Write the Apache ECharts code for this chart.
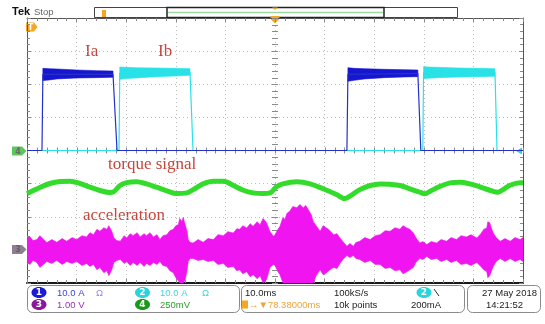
<!DOCTYPE html>
<html><head><meta charset="utf-8">
<script src="https://cdn.jsdelivr.net/npm/echarts@6/dist/echarts.min.js"></script>
<style>html,body{margin:0;padding:0;background:#fff}#c{width:545px;height:324px}</style>
</head><body><div id="c"></div>
<script>
// Horizontal: 10.0 ms/div, 10 divisions on screen
const timeRange = [0, 100];
const timePerDiv = 10;

// Channel settings: units per division and ground position (divisions from centre)
const ch1 = { perDiv: 10.0, groundDiv: 0 };   // Ia, 10.0 A/div
const ch2 = { perDiv: 10.0, groundDiv: 0 };   // Ib, 10.0 A/div
const ch3 = { perDiv: 1.00, groundDiv: -3 };  // acceleration, 1.00 V/div
const ch4 = { perDiv: 0.25, groundDiv: 0 };   // torque signal, 250 mV/div

// Ch1 phase current Ia [ms, A]
const ch1Trace = [[0,0],[3.02,0],[3.2,23.0],[17.34,23.0],[18.15,0],[64.5,0],[64.7,23.0],[78.8,23.3],[79.4,0],[100,0]];
// Ch1 flat-top noise band [ms, low A, high A]
const ch1Tops = [
  [[3.2,21.1,24.8],[4.5,21.3,24.7],[6.0,21.6,24.6],[10.0,21.9,24.3],[14.0,22.0,24.1],[17.34,22.1,24.0]],
  [[64.7,20.9,25.0],[66.0,21.2,24.8],[68.0,21.6,24.7],[72.0,22.0,24.5],[76.0,22.2,24.4],[78.8,22.3,24.3]]
];
// Ch2 phase current Ib [ms, A]
const ch2Trace = [[0,0],[18.55,0],[18.7,23.4],[32.86,23.7],[33.47,0],[79.8,0],[79.95,23.5],[94.35,23.6],[94.76,0],[100,0]];
const ch2Tops = [
  [[18.7,21.5,25.2],[20.0,21.7,25.1],[22.0,21.9,25.0],[26.0,22.3,24.9],[30.0,22.5,24.8],[32.86,22.7,24.7]],
  [[79.95,21.7,25.3],[81.0,21.8,25.2],[83.0,22.0,25.1],[87.0,22.2,24.9],[91.0,22.3,24.8],[94.35,22.4,24.7]]
];

// Ch4 torque signal [ms, V]
const ch4Torque = [
  [0,-0.325],[0.6,-0.315],[2.6,-0.279],[4.6,-0.249],[6.65,-0.234],[8.67,-0.232],[10.7,-0.249],[12.7,-0.277],
  [14.7,-0.302],[16.7,-0.317],[17.3,-0.315],[18.75,-0.264],[20.1,-0.242],[22.1,-0.236],[24.1,-0.252],[26.1,-0.277],
  [28.2,-0.304],[30.2,-0.325],[32.2,-0.320],[33.5,-0.295],[35.5,-0.252],[37.6,-0.232],[39.6,-0.232],[41.6,-0.264],
  [43.6,-0.300],[45.6,-0.320],[47.6,-0.325],[49.0,-0.320],[50.3,-0.274],[51.6,-0.252],[54.4,-0.236],[57.1,-0.252],
  [59.7,-0.289],[62.4,-0.332],[64.1,-0.363],[65.1,-0.345],[67.1,-0.295],[69.2,-0.264],[71.2,-0.252],[73.2,-0.255],
  [75.2,-0.264],[77.2,-0.289],[79.2,-0.315],[80.2,-0.327],[81.3,-0.307],[83.3,-0.270],[85.3,-0.244],[87.3,-0.239],
  [89.3,-0.252],[91.3,-0.274],[93.3,-0.300],[95.0,-0.315],[96.0,-0.295],[97.4,-0.262],[99.4,-0.244],[100,-0.244]
];

// Ch3 acceleration envelope [ms, low V, high V]
const ch3Envelope = [
  [0.0,-0.35,0.37],[0.6,-0.44,0.40],[1.2,-0.32,0.28],[2.0,-0.38,0.31],[2.6,-0.53,0.43],[4.0,-0.35,0.22],
  [5.0,-0.41,0.31],[6.0,-0.32,0.23],[7.1,-0.44,0.34],[8.0,-0.35,0.26],[9.1,-0.41,0.37],[10.0,-0.35,0.31],
  [11.1,-0.47,0.43],[12.0,-0.41,0.39],[12.7,-0.50,0.52],[13.4,-0.44,0.46],[14.1,-0.60,0.62],[14.7,-0.53,0.56],
  [15.5,-0.69,0.67],[16.1,-0.63,0.62],[16.5,-0.78,0.73],[17.1,-0.60,0.56],[17.5,-0.38,0.37],[18.1,-0.32,0.28],
  [18.8,-0.29,0.26],[19.6,-0.41,0.43],[20.1,-0.35,0.36],[20.8,-0.47,0.49],[21.4,-0.38,0.43],[22.2,-0.47,0.52],
  [22.8,-0.38,0.39],[23.6,-0.50,0.49],[24.1,-0.41,0.43],[24.8,-0.47,0.52],[25.5,-0.38,0.39],[26.2,-0.44,0.46],
  [26.8,-0.35,0.31],[27.4,-0.47,0.43],[28.2,-0.50,0.46],[28.8,-0.63,0.58],[29.5,-0.69,0.62],[30.0,-0.84,0.73],
  [30.5,-0.93,0.76],[30.8,-1.00,0.95],[31.2,-1.00,0.86],[31.5,-1.00,0.98],[31.9,-0.90,0.76],[32.3,-0.60,0.55],
  [32.5,-0.35,0.31],[32.9,-0.26,0.22],[33.5,-0.26,0.21],[34.5,-0.32,0.31],[35.5,-0.29,0.23],[36.5,-0.35,0.34],
  [37.6,-0.32,0.31],[38.5,-0.44,0.46],[39.6,-0.41,0.43],[40.5,-0.53,0.55],[41.6,-0.50,0.51],[42.3,-0.63,0.64],
  [42.9,-0.60,0.62],[43.5,-0.72,0.73],[44.3,-0.66,0.66],[45.0,-0.81,0.79],[45.6,-0.75,0.71],[46.4,-0.87,0.85],
  [47.0,-0.78,0.76],[47.6,-1.00,0.95],[48.3,-0.90,0.82],[49.0,-0.53,0.55],[49.7,-0.44,0.41],[50.0,-0.47,0.46],
  [50.6,-0.66,0.62],[51.0,-0.75,0.71],[51.6,-1.00,0.98],[52.0,-1.00,0.92],[52.4,-1.00,1.10],[53.0,-1.00,1.17],
  [53.6,-1.00,1.31],[54.4,-1.00,1.27],[55.0,-1.00,1.37],[55.7,-1.00,1.27],[56.2,-1.00,1.34],[56.7,-1.00,1.22],
  [57.3,-1.00,1.07],[57.7,-1.00,0.86],[58.3,-0.78,0.73],[59.1,-0.60,0.56],[59.7,-0.75,0.73],[60.4,-0.69,0.66],
  [61.1,-0.60,0.58],[61.8,-0.53,0.46],[62.5,-0.56,0.49],[63.1,-0.41,0.36],[63.7,-0.29,0.25],[64.5,-0.17,0.11],
  [65.1,-0.23,0.19],[65.8,-0.17,0.11],[66.3,-0.26,0.22],[67.1,-0.29,0.26],[68.1,-0.38,0.37],[69.2,-0.32,0.31],
  [70.2,-0.44,0.43],[71.2,-0.44,0.46],[72.2,-0.56,0.58],[73.2,-0.53,0.56],[74.2,-0.63,0.67],[75.2,-0.60,0.62],
  [75.8,-0.72,0.73],[76.6,-0.66,0.66],[77.2,-0.60,0.62],[77.9,-0.53,0.51],[78.4,-0.38,0.37],[79.2,-0.26,0.21],
  [79.8,-0.29,0.25],[80.6,-0.20,0.16],[81.5,-0.29,0.25],[82.6,-0.26,0.21],[83.5,-0.35,0.31],[84.6,-0.29,0.26],
  [85.5,-0.38,0.37],[86.6,-0.32,0.31],[87.5,-0.44,0.43],[88.6,-0.41,0.39],[89.5,-0.47,0.46],[90.7,-0.38,0.36],
  [91.5,-0.50,0.49],[92.1,-0.60,0.62],[92.7,-0.66,0.66],[92.9,-0.84,0.85],[93.3,-0.78,0.82],[93.6,-0.66,0.67],
  [94.0,-0.50,0.51],[94.6,-0.35,0.37],[95.4,-0.26,0.26],[96.4,-0.35,0.34],[97.4,-0.26,0.26],[98.4,-0.35,0.37],
  [99.4,-0.29,0.31],[100,-0.35,0.37]
];

const colors = {
  ch1: '#1616d2', ch1Line: '#2430c8', ch2: '#28e2e8', ch3: '#f014f0', ch4: '#33dc2a',
  note: '#c4473d', grid: '#bcbcbc', tick: '#8a8a8a'
};

// Axis extent for a channel from its scale and ground position (8 divisions tall)
function chAxis(ch) {
  return { type: 'value', show: false, min: (-4 - ch.groundDiv) * ch.perDiv, max: (4 - ch.groundDiv) * ch.perDiv };
}

// Filled band between the low and high columns, drawn as one closed outline
function bandSeries(rows, yAxisIndex, color, z) {
  return {
    type: 'custom', xAxisIndex: 0, yAxisIndex, clip: true, z, silent: true, animation: false,
    data: rows,
    renderItem(params, api) {
      if (params.dataIndex !== 0) return null;
      const upper = rows.map(r => api.coord([r[0], r[2]]));
      const lower = rows.map(r => api.coord([r[0], r[1]])).reverse();
      return { type: 'polygon', shape: { points: upper.concat(lower) }, style: { fill: color, stroke: color, lineWidth: 0.6 } };
    }
  };
}

// Centre crosshair tick marks at 1/5 division
const crossTicks = {
  type: 'custom', xAxisIndex: 0, yAxisIndex: 0, z: 1, silent: true, animation: false,
  data: [[0, 0]],
  renderItem(params, api) {
    const children = [];
    const st = { stroke: colors.tick, lineWidth: 1 };
    for (let t = timeRange[0]; t <= timeRange[1] + 1e-6; t += timePerDiv / 5) {
      const p = api.coord([t, 0]);
      const x = Math.round(p[0]) + 0.5;
      children.push({ type: 'line', shape: { x1: x, y1: p[1] - 3, x2: x, y2: p[1] + 3 }, style: st });
    }
    const tc = (timeRange[0] + timeRange[1]) / 2;
    for (let d = -4; d <= 4 + 1e-6; d += 0.2) {
      const p = api.coord([tc, d]);
      const y = Math.round(p[1]) + 0.5;
      children.push({ type: 'line', shape: { x1: p[0] - 3, y1: y, x2: p[0] + 3, y2: y }, style: st });
    }
    return { type: 'group', children };
  }
};

const dotted = { color: colors.grid, type: [1, 3], width: 1 };
const tickStyle = { show: true, inside: true, length: 4, lineStyle: { color: colors.tick } };
const minorStyle = { show: true, splitNumber: 5, length: 3, lineStyle: { color: colors.tick } };

const font = '9.5px "Liberation Sans", Arial, sans-serif';
function txt(x, y, text, fill, extra) {
  return { type: 'text', x, y, silent: true,
    style: Object.assign({ text, fill, font, align: 'left', verticalAlign: 'middle' }, extra || {}) };
}
function badge(cx, cy, num, fill) {
  return [
    { type: 'ellipse', shape: { cx, cy, rx: 7.5, ry: 5.5 }, style: { fill } },
    { type: 'text', x: cx, y: cy + 0.5, style: { text: num, fill: '#fff', font: 'bold 9px "DejaVu Sans", sans-serif', align: 'center', verticalAlign: 'middle' } }
  ];
}
const noteFont = '17px "Liberation Serif", "DejaVu Serif", serif';

const graphics = [
  // header
  { type: 'text', x: 12, y: 12, style: { text: 'Tek', fill: '#111', font: 'bold 11px "Liberation Sans", Arial, sans-serif', verticalAlign: 'middle' } },
  { type: 'text', x: 34, y: 12, style: { text: 'Stop', fill: '#666', font: '9.5px "Liberation Sans", Arial, sans-serif', verticalAlign: 'middle' } },
  // record overview bar
  { type: 'rect', shape: { x: 94.5, y: 7.5, width: 363, height: 10 }, style: { fill: '#fff', stroke: '#444', lineWidth: 1 } },
  { type: 'rect', shape: { x: 167, y: 7.5, width: 217, height: 10 }, style: { fill: '#fff', stroke: '#222', lineWidth: 1.5 } },
  { type: 'line', shape: { x1: 168, y1: 12.5, x2: 383, y2: 12.5 }, style: { stroke: '#9fd89f', lineWidth: 1.5 } },
  { type: 'rect', shape: { x: 102, y: 10, width: 4, height: 7 }, style: { fill: '#f5a623' } },
  { type: 'polygon', shape: { points: [[272, 7.5], [278, 7.5], [275, 10]] }, style: { fill: '#f5a623' } },
  // trigger position marker
  { type: 'polygon', shape: { points: [[270.5, 16], [279.5, 16], [279.5, 19], [275, 23.5], [270.5, 19]] }, style: { fill: '#f5a623' } },
  // trigger level marker
  { type: 'polygon', shape: { points: [[26, 22.5], [34, 22.5], [37.5, 27], [34, 31.5], [26, 31.5]] }, style: { fill: '#f5a623' } },
  { type: 'text', x: 30.5, y: 27.5, style: { text: 'T', fill: '#fff', font: 'bold 8px "DejaVu Sans", sans-serif', align: 'center', verticalAlign: 'middle' } },
  // channel ground markers
  { type: 'polygon', shape: { points: [[12, 146.5], [22, 146.5], [26.5, 151], [22, 155.5], [12, 155.5]] }, style: { fill: '#5cc85c' } },
  { type: 'text', x: 18, y: 151.5, style: { text: '4', fill: '#6a6a6a', font: 'bold 8px "DejaVu Sans", sans-serif', align: 'center', verticalAlign: 'middle' } },
  { type: 'polygon', shape: { points: [[12, 245], [22, 245], [26.5, 249.5], [22, 254], [12, 254]] }, style: { fill: '#8e8090' } },
  { type: 'text', x: 18, y: 250, style: { text: '3', fill: '#6a5a6a', font: 'bold 8px "DejaVu Sans", sans-serif', align: 'center', verticalAlign: 'middle' } },
  { type: 'polygon', shape: { points: [[516, 151], [522, 147.5], [522, 154.5]] }, style: { fill: '#28d4e0' } },
  // annotations
  { type: 'text', x: 85, y: 52, style: { text: 'Ia', fill: colors.note, font: noteFont, verticalAlign: 'middle' } },
  { type: 'text', x: 158, y: 52, style: { text: 'Ib', fill: colors.note, font: noteFont, verticalAlign: 'middle' } },
  { type: 'text', x: 108, y: 165, style: { text: 'torque signal', fill: colors.note, font: noteFont, verticalAlign: 'middle' } },
  { type: 'text', x: 83, y: 216, style: { text: 'acceleration', fill: colors.note, font: noteFont, verticalAlign: 'middle' } },
  // readout boxes
  { type: 'rect', shape: { x: 27.5, y: 285.5, width: 212, height: 27, r: 5 }, style: { fill: 'none', stroke: '#8a8a8a', lineWidth: 1 } },
  { type: 'rect', shape: { x: 241.5, y: 285.5, width: 223, height: 27, r: 5 }, style: { fill: 'none', stroke: '#8a8a8a', lineWidth: 1 } },
  { type: 'rect', shape: { x: 467.5, y: 285.5, width: 73, height: 27, r: 5 }, style: { fill: 'none', stroke: '#8a8a8a', lineWidth: 1 } },
  ...badge(39, 292.5, '1', '#1a1ad8'),
  txt(57, 293, '10.0 A', '#4040d8'),
  txt(96, 293, 'Ω', '#9a88e0'),
  ...badge(142.5, 292.5, '2', '#2ad4dc'),
  txt(160, 293, '10.0 A', '#40d4dc'),
  txt(202, 293, 'Ω', '#40d4dc'),
  ...badge(39, 304.5, '3', '#8a1a9a'),
  txt(57, 305, '1.00 V', '#9a30b0'),
  ...badge(142.5, 304.5, '4', '#1a9a1a'),
  txt(160, 305, '250mV', '#2aa02a'),
  txt(245, 293, '10.0ms', '#222'),
  txt(334, 293, '100kS/s', '#222'),
  ...badge(424, 292.5, '2', '#2ad4dc'),
  { type: 'line', shape: { x1: 434, y1: 289, x2: 439, y2: 296 }, style: { stroke: '#333', lineWidth: 1 } },
  { type: 'rect', shape: { x: 242, y: 300.5, width: 6, height: 8 }, style: { fill: '#f5a623' } },
  txt(249, 305, '→▼78.38000ms', '#f0a23c'),
  txt(334, 305, '10k points', '#222'),
  txt(411, 305, '200mA', '#222'),
  txt(537, 293, '27 May 2018', '#222', { align: 'right' }),
  txt(523, 305, '14:21:52', '#222', { align: 'right' })
];

const option = {
  animation: false,
  backgroundColor: '#fff',
  grid: { left: 27, top: 18, width: 496, height: 265 },
  xAxis: [
    { type: 'value', min: timeRange[0], max: timeRange[1], interval: timePerDiv, position: 'bottom',
      axisLine: { show: true, onZero: false, lineStyle: { color: '#1a1a1a', width: 2 } },
      axisTick: tickStyle, minorTick: minorStyle, axisLabel: { show: false },
      splitLine: { show: true, lineStyle: dotted } },
    { type: 'value', min: timeRange[0], max: timeRange[1], interval: timePerDiv, position: 'top',
      axisLine: { show: true, onZero: false, lineStyle: { color: '#555', width: 1 } },
      axisTick: tickStyle, minorTick: minorStyle, axisLabel: { show: false }, splitLine: { show: false } }
  ],
  yAxis: [
    { type: 'value', min: -4, max: 4, interval: 1, position: 'left',
      axisLine: { show: true, onZero: false, lineStyle: { color: '#555', width: 1 } },
      axisTick: tickStyle, minorTick: minorStyle, axisLabel: { show: false },
      splitLine: { show: true, lineStyle: dotted } },
    { type: 'value', min: -4, max: 4, interval: 1, position: 'right',
      axisLine: { show: true, onZero: false, lineStyle: { color: '#555', width: 1 } },
      axisTick: tickStyle, minorTick: minorStyle, axisLabel: { show: false }, splitLine: { show: false } },
    chAxis(ch1),
    chAxis(ch3),
    chAxis(ch4)
  ],
  series: [
    crossTicks,
    bandSeries(ch3Envelope, 3, colors.ch3, 3),
    { type: 'line', name: 'torque', xAxisIndex: 0, yAxisIndex: 4, data: ch4Torque, showSymbol: false, smooth: 0.35,
      lineStyle: { color: colors.ch4, width: 5 }, z: 4, silent: true },
    { type: 'line', name: 'Ib', xAxisIndex: 0, yAxisIndex: 2, data: ch2Trace, showSymbol: false,
      lineStyle: { color: colors.ch2, width: 1.2 }, z: 5, silent: true },
    ...ch2Tops.map(r => bandSeries(r, 2, colors.ch2, 5)),
    { type: 'line', name: 'Ia', xAxisIndex: 0, yAxisIndex: 2, data: ch1Trace, showSymbol: false,
      lineStyle: { color: colors.ch1Line, width: 1.2 }, z: 6, silent: true },
    ...ch1Tops.map(r => bandSeries(r, 2, colors.ch1, 6))
  ],
  graphic: graphics
};

const chart = echarts.init(document.getElementById('c'), null, { renderer: 'canvas' });
chart.setOption(option);
</script>
</body></html>
